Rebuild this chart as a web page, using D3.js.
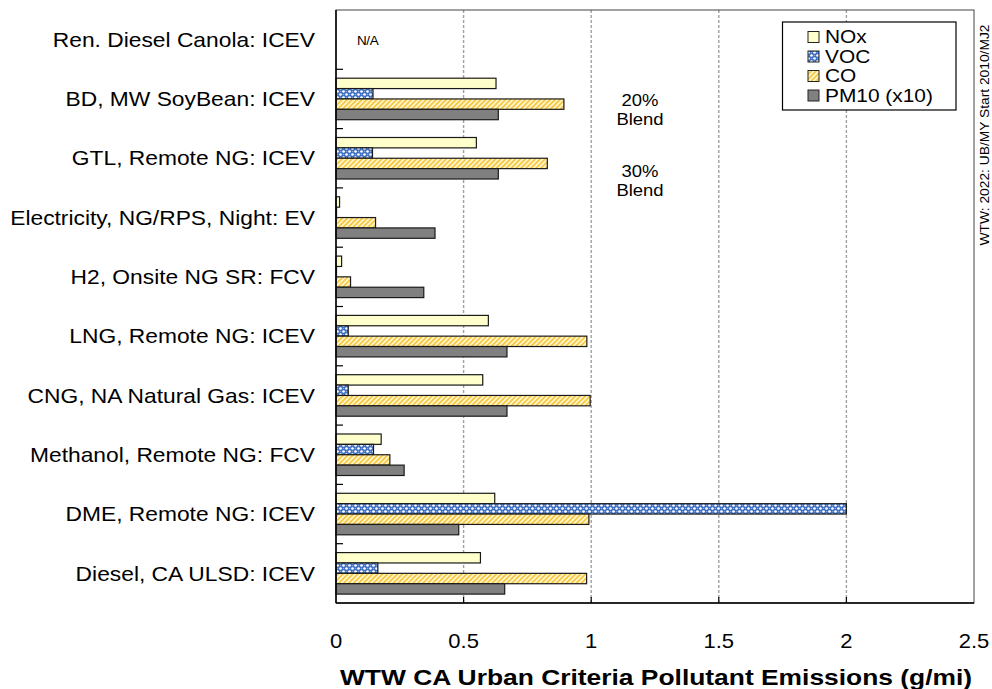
<!DOCTYPE html>
<html><head><meta charset="utf-8">
<script src="https://cdn.jsdelivr.net/npm/d3@7"></script>
<style>
body{margin:0;background:#fff;}
svg{display:block;font-family:"Liberation Sans",Arial,sans-serif;}
</style></head>
<body><svg id="chart" width="992" height="689"></svg>
<script>
const categories = ["Ren. Diesel Canola: ICEV","BD, MW SoyBean: ICEV","GTL, Remote NG: ICEV","Electricity, NG/RPS, Night: EV","H2, Onsite NG SR: FCV","LNG, Remote NG: ICEV","CNG, NA Natural Gas: ICEV","Methanol, Remote NG: FCV","DME, Remote NG: ICEV","Diesel, CA ULSD: ICEV"];
const seriesNames = ["NOx","VOC","CO","PM10 (x10)"];
const noxValues = [null,0.627,0.55,0.014,0.022,0.597,0.575,0.177,0.622,0.566];
const vocValues = [null,0.145,0.143,0.002,0.002,0.048,0.048,0.147,2.0,0.164];
const coValues  = [null,0.893,0.828,0.155,0.057,0.983,0.996,0.211,0.991,0.982];
const pmValues  = [null,0.636,0.636,0.388,0.344,0.67,0.67,0.267,0.481,0.661];
const xTicks = [0,0.5,1,1.5,2,2.5];
const xTickLabels = ["0","0.5","1","1.5","2","2.5"];
const xTitle = "WTW CA Urban Criteria Pollutant Emissions (g/mi)";
const sideNote = "WTW: 2022: UB/MY Start 2010/MJ2";
const annotationCats = [1,2];
const annotationTexts = [["20%","Blend"],["30%","Blend"]];
const naLabel = "N/A";

const svg = d3.select("#chart");
const L=336, T=10, R=974, B=603;
const x = d3.scaleLinear().domain([0,2.5]).range([L,R]);
const y = d3.scaleBand().domain(categories).range([T,B]).paddingInner(0.3).paddingOuter(0.15);
const ySub = d3.scaleBand().domain(seriesNames).range([0,y.bandwidth()]);

// patterns
const defs = svg.append("defs");
const pv = defs.append("pattern").attr("id","voc").attr("patternUnits","userSpaceOnUse").attr("width",6).attr("height",6);
pv.append("rect").attr("width",6).attr("height",6).attr("fill","#3a6cc0");
pv.append("circle").attr("cx",1.5).attr("cy",1.5).attr("r",1.35).attr("fill","#ffffff");
pv.append("circle").attr("cx",4.5).attr("cy",4.5).attr("r",1.35).attr("fill","#ffffff");
pv.append("circle").attr("cx",4.5).attr("cy",1.5).attr("r",0.8).attr("fill","#86a8df");
pv.append("circle").attr("cx",1.5).attr("cy",4.5).attr("r",0.8).attr("fill","#86a8df");
const pc = defs.append("pattern").attr("id","co").attr("patternUnits","userSpaceOnUse").attr("width",3.5).attr("height",3.5).attr("patternTransform","rotate(45)");
pc.append("rect").attr("width",3.5).attr("height",3.5).attr("fill","#fff7d0");
pc.append("rect").attr("width",1.8).attr("height",3.5).attr("fill","#f7c843");

const fills = {"NOx":"#ffffcc","VOC":"url(#voc)","CO":"url(#co)","PM10 (x10)":"#808080"};
const seriesValues = {"NOx":noxValues,"VOC":vocValues,"CO":coValues,"PM10 (x10)":pmValues};

// gridlines
svg.append("g").selectAll("line").data(xTicks.filter(t=>t>0&&t<2.5)).join("line")
  .attr("x1",d=>x(d)).attr("x2",d=>x(d)).attr("y1",T).attr("y2",B)
  .attr("stroke","#a0a0a0").attr("stroke-width",1.4).attr("stroke-dasharray","3,2");

// bars
const rows = [];
categories.forEach((c,i)=>seriesNames.forEach(s=>{const v=seriesValues[s][i]; if(v!=null) rows.push({c,s,v});}));
svg.append("g").selectAll("rect").data(rows).join("rect")
  .attr("x",x(0)).attr("y",d=>y(d.c)+ySub(d.s))
  .attr("width",d=>x(d.v)-x(0)).attr("height",ySub.bandwidth())
  .attr("fill",d=>fills[d.s]).attr("stroke","#1a1a1a").attr("stroke-width",1.2);

// frame
svg.append("rect").attr("x",L).attr("y",T).attr("width",R-L).attr("height",B-T)
  .attr("fill","none").attr("stroke","#444").attr("stroke-width",1);
svg.append("line").attr("x1",L).attr("x2",L).attr("y1",T).attr("y2",B).attr("stroke","#000").attr("stroke-width",1.5);
svg.append("line").attr("x1",L).attr("x2",R).attr("y1",B).attr("y2",B).attr("stroke","#000").attr("stroke-width",1.3);

// y axis
const yAx = svg.append("g").attr("transform",`translate(${L},0)`);
yAx.selectAll("line.tk").data(categories.slice(1)).join("line").attr("class","tk")
  .attr("x1",0).attr("x2",7).attr("y1",d=>y(d)-y.step()*y.paddingInner()/2).attr("y2",d=>y(d)-y.step()*y.paddingInner()/2)
  .attr("stroke","#000").attr("stroke-width",1.2);
yAx.selectAll("text").data(categories).join("text")
  .attr("transform",d=>`translate(-21,${y(d)+y.bandwidth()/2}) scale(1.14,1)`).attr("dy","0.36em")
  .attr("text-anchor","end").attr("font-size",20).attr("fill","#000").text(d=>d);

// x axis
const xAx = svg.append("g");
xAx.selectAll("line").data(xTicks.filter(t=>t>0&&t<2.5)).join("line")
  .attr("x1",d=>x(d)).attr("x2",d=>x(d)).attr("y1",B).attr("y2",B-6).attr("stroke","#000").attr("stroke-width",1.2);
xAx.selectAll("text").data(xTicks).join("text")
  .attr("transform",d=>`translate(${x(d)},648) scale(1.1,1)`).attr("text-anchor","middle").attr("font-size",20)
  .text((d,i)=>xTickLabels[i]);
svg.append("text").attr("transform",`translate(${(L+R)/2+1},685) scale(1.2,1)`).attr("text-anchor","middle")
  .attr("font-size",22).attr("font-weight","bold").text(xTitle);

// annotations
svg.append("text").attr("transform",`translate(${x(0)+21},${y(categories[0])+y.bandwidth()/2})`).attr("dy","0.36em")
  .attr("font-size",13.5).attr("letter-spacing",-0.4).text(naLabel);
const annOffsets = [1,12.5];
annotationCats.forEach((ci,k)=>{
  const cy = y(categories[ci])+y.bandwidth()/2+annOffsets[k];
  annotationTexts[k].forEach((s,j)=>{
    svg.append("text").attr("transform",`translate(640,${cy+j*19.5}) scale(1.1,1)`).attr("dy","0.36em")
      .attr("text-anchor","middle").attr("font-size",16.8).text(s);
  });
});

// legend
const lg = svg.append("g");
lg.append("rect").attr("x",782.5).attr("y",22).attr("width",173.5).attr("height",88).attr("fill","#fff").attr("stroke","#000").attr("stroke-width",1.2);
seriesNames.forEach((s,i)=>{
  const cy = 37+i*19.5;
  lg.append("rect").attr("x",808).attr("y",cy-5.5).attr("width",11).attr("height",11).attr("fill",fills[s]).attr("stroke","#222").attr("stroke-width",1);
  lg.append("text").attr("transform",`translate(825,${cy}) scale(1.16,1)`).attr("dy","0.36em").attr("font-size",18).text(s);
});

// side note
svg.append("text").attr("transform","translate(989,135) rotate(-90) scale(1.15,1)").attr("text-anchor","middle")
  .attr("font-size",12).text(sideNote);
</script></body></html>
